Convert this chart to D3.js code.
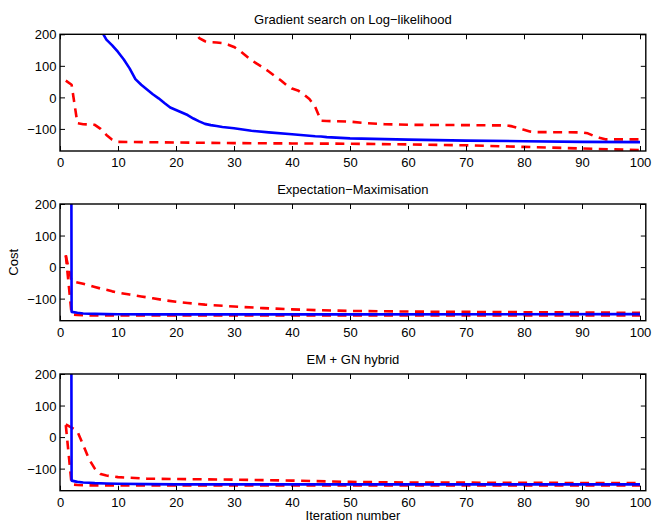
<!DOCTYPE html>
<html><head><meta charset="utf-8">
<script src="https://cdn.jsdelivr.net/npm/d3@7"></script>
<style>body{margin:0;background:#fff}svg{display:block}text{font-family:"Liberation Sans",Arial,Helvetica,sans-serif;fill:#000}</style>
</head><body>
<svg id="c" width="652" height="521"></svg>
<script>
// ---------- data ----------
const titles = ["Gradient search on Log\u2212likelihood", "Expectation\u2212Maximisation", "EM + GN hybrid"];
const xTicks = [0,10,20,30,40,50,60,70,80,90,100];
const yTicks = [-100,0,100,200];
const yTickLabels = ["\u2212100","0","100","200"];
const xLabel = "Iteration number";
const yLabel = "Cost";

// Gradient search
const gsBlueIter = [1,2,3,4,5,6,7,8,9,10,11,12,13,14,15,16,17,18,19,20,21,22,23,24,25,26,27,28,30,33,36,40,44,45,46,50,60,70,80,90,100];
const gsBlue     = [800,650,520,420,340,270,215,183,165,144,120,92,58,40,25,10,-3,-18,-32,-40,-48,-56,-67,-76,-84,-88,-91,-94,-98,-106,-111,-117,-123,-124,-126,-130,-134,-137,-139,-141,-142];
const gsRedAIter = [20,21,22,23,24,25,26,27,28,29,30,31,32,33,34,35,36,37,38,39,40,41,42,43,44,45,46,50,53,56,60,70,77,78,79,80,81,82,90,91,92,93,94,100];
const gsRedA     = [320,280,245,215,188,178,175,174,172,167,160,148,133,118,106,95,82,68,55,40,28,22,10,-5,-30,-74,-75,-77,-82,-85,-87,-88,-89,-92,-97,-103,-108,-110,-111,-114,-122,-128,-133,-133];
const gsRedBIter = [1,2,3,4,5,6,7,8,9,10,15,20,30,40,50,60,70,80,90,100];
const gsRedB     = [53,40,-82,-85,-86,-87,-100,-119,-134,-141,-142,-143,-145,-146,-147,-149,-152,-157,-162,-167];

// Expectation-Maximisation
const emBlueIter = [1,2,3,4,5,6,8,10,15,20,30,50,100];
const emBlue     = [10000,-142,-145,-147,-148,-148.5,-149,-149.5,-150,-150,-150,-150,-149];
const emRedAIter = [1,2,3,4,5,6,7,8,9,10,12,14,16,18,20,22,25,30,35,40,45,50,60,70,80,90,100];
const emRedA     = [36,-45,-49,-53,-58,-63,-68,-72,-77,-81,-87,-93,-99,-105,-110,-114,-119,-125,-130,-134,-137,-139,-141,-142,-143,-144,-145];
const emRedBIter = [1,2,3,5,10,20,50,100];
const emRedB     = [38,-150,-152,-153,-153,-153,-153,-153];

// EM + GN hybrid
const hyBlueIter = [1,2,3,4,5,6,8,10,15,20,30,50,100];
const hyBlue     = [10000,-138,-142,-144,-145,-146,-147,-148,-149,-150,-150,-150,-150];
const hyRedAIter = [1,2,3,4,5,6,7,8,10,12,15,20,30,40,50,60,80,100];
const hyRedA     = [40,30,18,-25,-70,-100,-117,-122,-127,-129,-132,-133,-135,-138,-142,-144,-145,-146];
const hyRedBIter = [1,2,3,5,10,20,50,100];
const hyRedB     = [38,-150,-152,-153,-153,-153,-153,-153];

const panels = [
  {title: titles[0], series: [
    {x: gsRedBIter, y: gsRedB, kind: "red"},
    {x: gsRedAIter, y: gsRedA, kind: "red"},
    {x: gsBlueIter, y: gsBlue, kind: "blue"}]},
  {title: titles[1], series: [
    {x: emRedBIter, y: emRedB, kind: "red"},
    {x: emRedAIter, y: emRedA, kind: "red"},
    {x: emBlueIter, y: emBlue, kind: "blue"}]},
  {title: titles[2], series: [
    {x: hyRedBIter, y: hyRedB, kind: "red"},
    {x: hyRedAIter, y: hyRedA, kind: "red"},
    {x: hyBlueIter, y: hyBlue, kind: "blue"}]}
];

// ---------- layout ----------
const svg = d3.select("#c");
const L = 60, R = 645.8, H = 116.7;
const tops = [34.3, 204, 374];
const x = d3.scaleLinear().domain([0,101]).range([L, R]);
const tickLen = 5;

panels.forEach((p, i) => {
  const top = tops[i];
  const y = d3.scaleLinear().domain([-170, 200]).range([top + H, top]);
  const g = svg.append("g");
  const cid = "clip" + i;
  g.append("clipPath").attr("id", cid).append("rect")
    .attr("x", L).attr("y", top).attr("width", R - L).attr("height", H);

  const line = d3.line().x(d => x(d[0])).y(d => y(d[1]));
  const lines = g.append("g").attr("clip-path", `url(#${cid})`);
  p.series.forEach(s => {
    const pts = s.x.map((xi, k) => [xi, s.y[k]]);
    lines.append("path").attr("d", line(pts)).attr("fill", "none")
      .attr("stroke", s.kind === "blue" ? "#0000ff" : "#ff0000")
      .attr("stroke-width", 2.6)
      .attr("stroke-linejoin", "round")
      .attr("stroke-dasharray", s.kind === "blue" ? null : "9,6.5");
  });

  // axes (ticks inside, on all four sides)
  const xb = d3.axisBottom(x).tickValues(xTicks).tickSizeInner(-tickLen).tickSizeOuter(0).tickFormat(d => d).tickPadding(7);
  const xt = d3.axisTop(x).tickValues(xTicks).tickSizeInner(-tickLen).tickSizeOuter(0).tickFormat("");
  const yl = d3.axisLeft(y).tickValues(yTicks).tickSizeInner(-tickLen).tickSizeOuter(0)
    .tickFormat((d, k) => yTickLabels[k]).tickPadding(3.5);
  const yr = d3.axisRight(y).tickValues(yTicks).tickSizeInner(-tickLen).tickSizeOuter(0).tickFormat("");

  const ax = [
    g.append("g").attr("transform", `translate(0,${top + H})`).call(xb),
    g.append("g").attr("transform", `translate(0,${top})`).call(xt),
    g.append("g").attr("transform", `translate(${L},0)`).call(yl),
    g.append("g").attr("transform", `translate(${R},0)`).call(yr)
  ];
  ax.forEach(a => {
    a.select(".domain").remove();
    a.selectAll(".tick line").attr("stroke", "#000").attr("stroke-width", 1);
    a.selectAll("text").attr("font-size", 13).attr("fill", "#000")
      .style("font-family", '"Liberation Sans", Arial, sans-serif');
  });
  ax[2].selectAll("text").attr("dy", "0.36em");

  g.append("rect").attr("x", L).attr("y", top).attr("width", R - L).attr("height", H)
    .attr("fill", "none").attr("stroke", "#000").attr("stroke-width", 1.4);

  g.append("text").attr("x", (L + R) / 2).attr("y", top - 10.5)
    .attr("text-anchor", "middle").attr("font-size", 13).text(p.title);
});

svg.append("text").attr("transform", `translate(18.3,${tops[1] + H / 2}) rotate(-90)`)
  .attr("text-anchor", "middle").attr("font-size", 13).text(yLabel);
svg.append("text").attr("x", (L + R) / 2).attr("y", 520)
  .attr("text-anchor", "middle").attr("font-size", 13).text(xLabel);
</script>
</body></html>
